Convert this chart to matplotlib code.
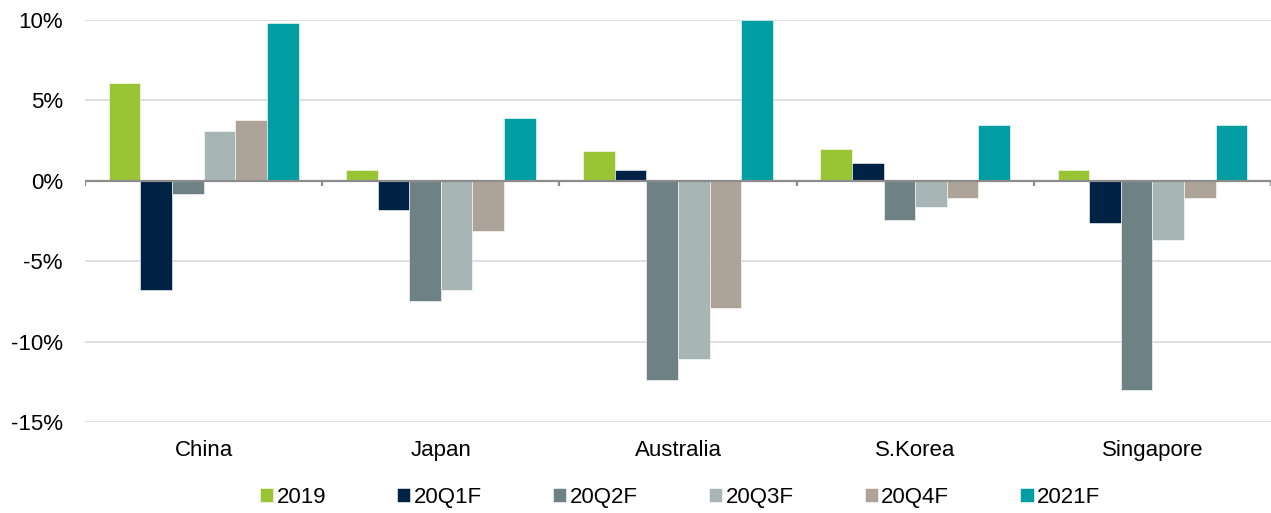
import matplotlib.pyplot as plt
import numpy as np
from matplotlib.ticker import FuncFormatter

plt.rcParams['font.family'] = ['Liberation Sans', 'DejaVu Sans']

countries = ["China", "Japan", "Australia", "S.Korea", "Singapore"]
series = ["2019", "20Q1F", "20Q2F", "20Q3F", "20Q4F", "2021F"]
colors = ["#99c535", "#002244", "#6e8285", "#a8b5b5", "#ada398", "#009ea2"]

# GDP growth, %
g2019 = [6.1, 0.7, 1.85, 2.0, 0.7]
g20q1 = [-6.8, -1.8, 0.7, 1.1, -2.6]
g20q2 = [-0.85, -7.45, -12.4, -2.45, -13.0]
g20q3 = [3.1, -6.8, -11.1, -1.6, -3.7]
g20q4 = [3.8, -3.1, -7.9, -1.05, -1.1]
g2021 = [9.8, 3.9, 10.0, 3.5, 3.5]
values = [g2019, g20q1, g20q2, g20q3, g20q4, g2021]

fig = plt.figure(figsize=(12.71, 5.13), dpi=100)
ax = fig.add_axes([0.0669, 0.1774, 0.9331, 0.7836])

x = np.arange(len(countries))
w = 0.8 / len(series)
for i, (name, vals, c) in enumerate(zip(series, values, colors)):
    ax.bar(x - 0.4 + w * (i + 0.5), vals, w, color=c, label=name,
           edgecolor="white", linewidth=0.4, zorder=3)

ax.set_xlim(-0.5, len(countries) - 0.5)
ax.set_ylim(-15, 10)
ax.set_yticks([-15, -10, -5, 0, 5, 10])
ax.yaxis.set_major_formatter(FuncFormatter(lambda v, _: f"{v:.0f}%"))
ax.grid(axis="y", color="#d9d9d9", linewidth=1.2, zorder=0)
ax.set_xticks(x)
ax.set_xticklabels(countries)
ax.tick_params(axis="both", length=0, labelsize=16, colors="#000000")
ax.tick_params(axis="y", pad=16)
ax.tick_params(axis="x", pad=13)
for s in ax.spines.values():
    s.set_visible(False)

# zero line with category separators
ax.axhline(0, color="#8c8c8c", linewidth=1.6, zorder=4)
ax.vlines(np.arange(len(countries) + 1) - 0.5, -0.32, 0, color="#8c8c8c",
          linewidth=1.6, zorder=4)

fig.legend(loc="center", bbox_to_anchor=(0.535, 0.031), ncol=6, frameon=False,
           fontsize=16, handlelength=0.6, handleheight=0.6, handletextpad=0.15,
           columnspacing=3.2)

fig.savefig("out.png", dpi=100)
